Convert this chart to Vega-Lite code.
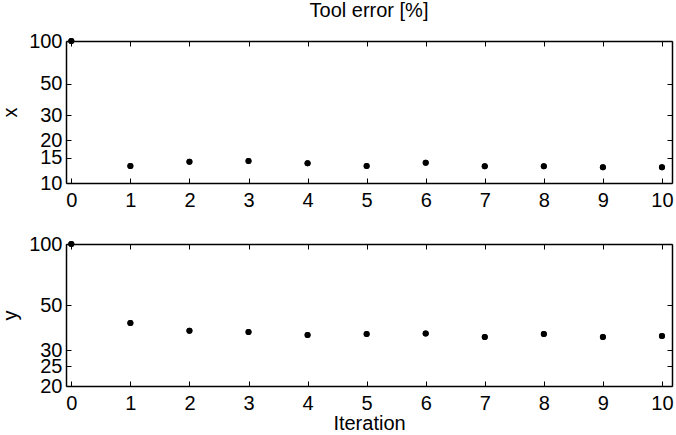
{
  "$schema": "https://vega.github.io/schema/vega-lite/v6.json",
  "padding": {"left": 0, "top": 1, "right": 0, "bottom": 0},
  "bounds": "flush",
  "spacing": 61,
  "config": {
    "font": "Liberation Sans",
    "view": {"stroke": null},
    "axis": {
      "domainColor": "black", "domainWidth": 1.5,
      "tickColor": "black", "tickWidth": 1, "tickSize": -5,
      "labelFont": "Liberation Sans", "labelFontSize": 20, "labelColor": "black",
      "titleFont": "Liberation Sans", "titleFontSize": 20, "titleFontWeight": "normal", "titleColor": "black",
      "grid": false, "labelOverlap": false, "labelFlush": false
    }
  },
  "data": {"values": [
    {"series": "x", "iteration": 0, "error": 100},
    {"series": "x", "iteration": 1, "error": 13.2},
    {"series": "x", "iteration": 2, "error": 14.1},
    {"series": "x", "iteration": 3, "error": 14.3},
    {"series": "x", "iteration": 4, "error": 13.8},
    {"series": "x", "iteration": 5, "error": 13.2},
    {"series": "x", "iteration": 6, "error": 13.9},
    {"series": "x", "iteration": 7, "error": 13.1},
    {"series": "x", "iteration": 8, "error": 13.1},
    {"series": "x", "iteration": 9, "error": 12.9},
    {"series": "x", "iteration": 10, "error": 12.9},
    {"series": "y", "iteration": 0, "error": 100},
    {"series": "y", "iteration": 1, "error": 40.8},
    {"series": "y", "iteration": 2, "error": 37.4},
    {"series": "y", "iteration": 3, "error": 36.9},
    {"series": "y", "iteration": 4, "error": 35.7},
    {"series": "y", "iteration": 5, "error": 36.1},
    {"series": "y", "iteration": 6, "error": 36.3},
    {"series": "y", "iteration": 7, "error": 34.9},
    {"series": "y", "iteration": 8, "error": 36.1},
    {"series": "y", "iteration": 9, "error": 34.9},
    {"series": "y", "iteration": 10, "error": 35.2}
  ]},
  "vconcat": [
    {
      "width": 606, "height": 142,
      "title": {"text": "Tool error [%]", "fontSize": 20, "fontWeight": "normal", "font": "Liberation Sans", "color": "black", "offset": 10},
      "transform": [{"filter": "datum.series === 'x'"}],
      "layer": [
        {
          "mark": {"type": "point", "filled": true, "color": "black", "size": 36, "opacity": 1},
          "encoding": {
            "x": {"field": "iteration", "type": "quantitative", "scale": {"domain": [-0.09, 10.17], "nice": false, "zero": false},
                  "axis": {"values": [0,1,2,3,4,5,6,7,8,9,10], "title": null, "labelPadding": 12}},
            "y": {"field": "error", "type": "quantitative", "scale": {"type": "log", "domain": [10, 100], "nice": false},
                  "axis": {"values": [10,15,20,30,50,100], "format": "d", "title": "x", "labelPadding": 9, "titlePadding": 8}}
          }
        },
        {
          "mark": {"type": "point", "filled": true, "color": "black", "size": 36, "opacity": 1},
          "encoding": {
            "x": {"field": "iteration", "type": "quantitative", "scale": {"domain": [-0.09, 10.17], "nice": false, "zero": false},
                  "axis": {"orient": "top", "values": [0,1,2,3,4,5,6,7,8,9,10], "labels": false, "title": null}},
            "y": {"field": "error", "type": "quantitative", "scale": {"type": "log", "domain": [10, 100], "nice": false},
                  "axis": {"orient": "right", "values": [10,15,20,30,50,100], "labels": false, "title": null}}
          }
        }
      ],
      "resolve": {"axis": {"x": "independent", "y": "independent"}}
    },
    {
      "width": 606, "height": 142,
      "transform": [{"filter": "datum.series === 'y'"}],
      "layer": [
        {
          "mark": {"type": "point", "filled": true, "color": "black", "size": 36, "opacity": 1},
          "encoding": {
            "x": {"field": "iteration", "type": "quantitative", "scale": {"domain": [-0.09, 10.17], "nice": false, "zero": false},
                  "axis": {"values": [0,1,2,3,4,5,6,7,8,9,10], "title": "Iteration", "labelPadding": 12, "titlePadding": 0}},
            "y": {"field": "error", "type": "quantitative", "scale": {"type": "log", "domain": [20, 100], "nice": false},
                  "axis": {"values": [20,25,30,50,100], "format": "d", "title": "y", "labelPadding": 9, "titlePadding": 8}}
          }
        },
        {
          "mark": {"type": "point", "filled": true, "color": "black", "size": 36, "opacity": 1},
          "encoding": {
            "x": {"field": "iteration", "type": "quantitative", "scale": {"domain": [-0.09, 10.17], "nice": false, "zero": false},
                  "axis": {"orient": "top", "values": [0,1,2,3,4,5,6,7,8,9,10], "labels": false, "title": null}},
            "y": {"field": "error", "type": "quantitative", "scale": {"type": "log", "domain": [20, 100], "nice": false},
                  "axis": {"orient": "right", "values": [20,25,30,50,100], "labels": false, "title": null}}
          }
        }
      ],
      "resolve": {"axis": {"x": "independent", "y": "independent"}}
    }
  ]
}
